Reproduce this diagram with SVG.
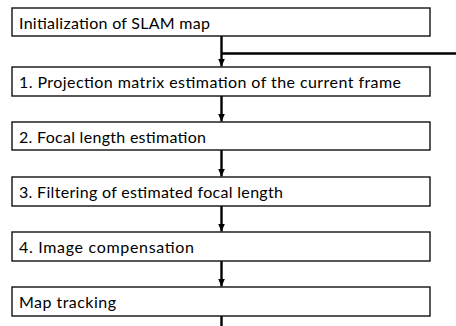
<svg xmlns="http://www.w3.org/2000/svg" width="456" height="326" viewBox="0 0 456 326">
  <style>
    .box { fill: #ffffff; stroke: #111111; stroke-width: 1.4; }
    .label { font-family: Lato, "Open Sans", "Liberation Sans", sans-serif; font-size: 16px; fill: #000000; }
    .wire { fill: none; stroke: #000000; stroke-width: 2.4; }
  </style>
  <defs>
    <marker id="head" viewBox="0 0 8 8" refX="8" refY="4" markerWidth="8" markerHeight="8" markerUnits="userSpaceOnUse" orient="auto">
      <path d="M0,0.5 L8,4 L0,7.5 z" fill="#000000"/>
    </marker>
  </defs>

  <rect width="456" height="326" fill="#ffffff"/>

  <!-- connectors between the steps -->
  <g id="connectors">
    <path class="wire" d="M221.5,36 V66.5" marker-end="url(#head)"/>
    <path class="wire" d="M456,53.5 H221.5"/>
    <path class="wire" d="M221.5,96 V121.5" marker-end="url(#head)"/>
    <path class="wire" d="M221.5,150 V176.5" marker-end="url(#head)"/>
    <path class="wire" d="M221.5,206 V231.5" marker-end="url(#head)"/>
    <path class="wire" d="M221.5,261 V286.5" marker-end="url(#head)"/>
    <path class="wire" d="M221.5,316 V326"/>
  </g>

  <g id="init">
    <rect class="box" x="12" y="8" width="418" height="28"/>
    <text class="label" x="19" y="28.5" textLength="191">Initialization of SLAM map</text>
  </g>
  <g id="step1">
    <rect class="box" x="12" y="67" width="418" height="29"/>
    <text class="label" x="19" y="88" textLength="382">1. Projection matrix estimation of the current frame</text>
  </g>
  <g id="step2">
    <rect class="box" x="12" y="122" width="418" height="28"/>
    <text class="label" x="19" y="142.5" textLength="187">2. Focal length estimation</text>
  </g>
  <g id="step3">
    <rect class="box" x="12" y="177" width="418" height="29"/>
    <text class="label" x="19" y="198" textLength="264">3. Filtering of estimated focal length</text>
  </g>
  <g id="step4">
    <rect class="box" x="12" y="232" width="418" height="29"/>
    <text class="label" x="19" y="253" textLength="175">4. Image compensation</text>
  </g>
  <g id="tracking">
    <rect class="box" x="12" y="287" width="418" height="29"/>
    <text class="label" x="19" y="308" textLength="97">Map tracking</text>
  </g>
</svg>
